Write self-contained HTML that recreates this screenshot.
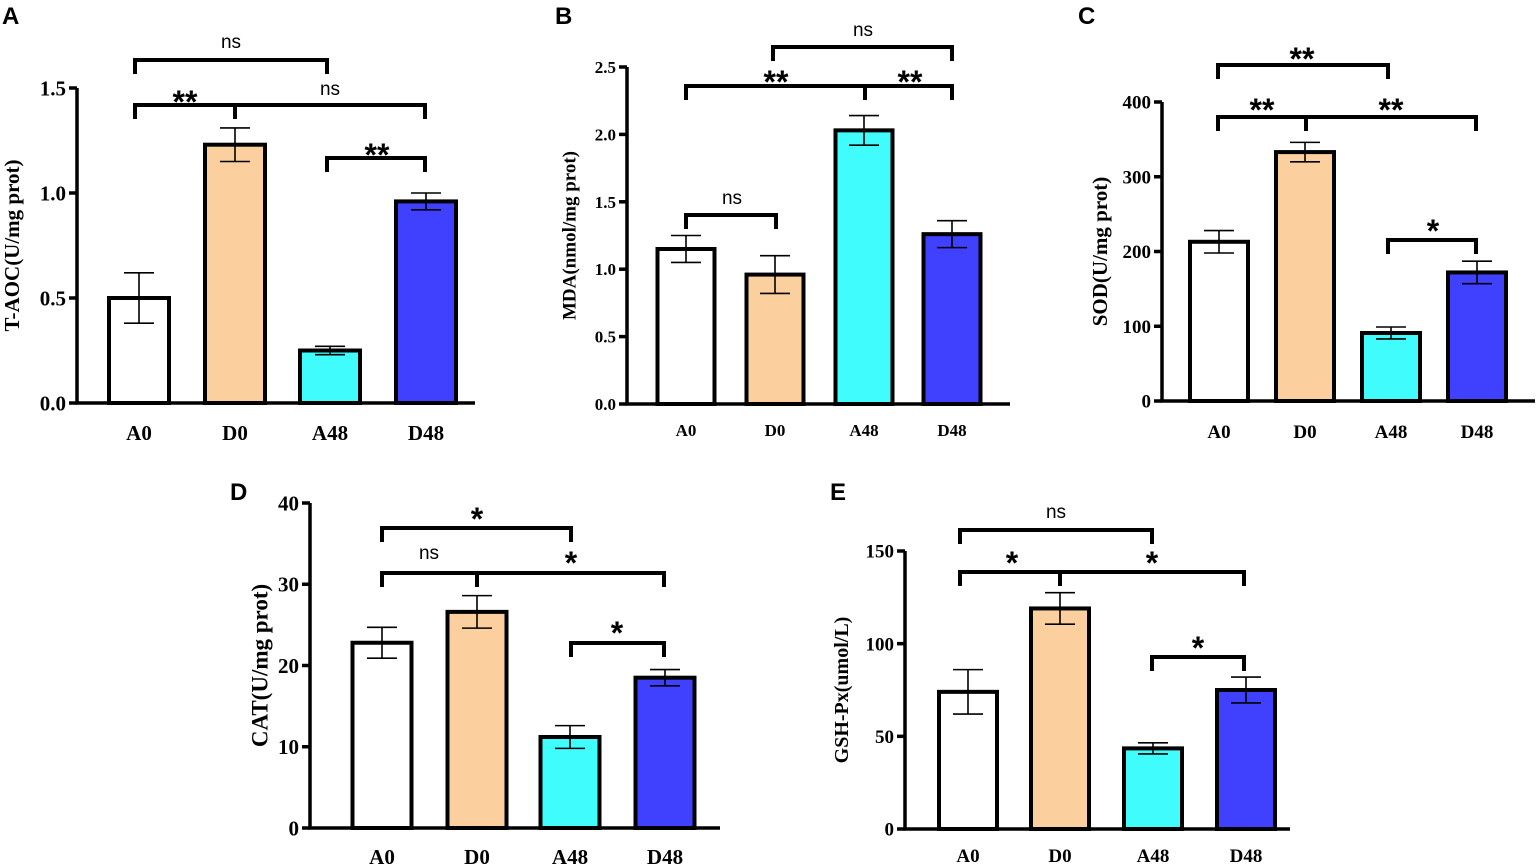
<!DOCTYPE html>
<html><head><meta charset="utf-8"><style>
html,body{margin:0;padding:0;background:#fff;}
svg{display:block;}
.tick{font-family:"Liberation Serif",serif;font-weight:bold;fill:#000;}
.sig{font-family:"Liberation Sans",sans-serif;fill:#000;}
.plab{font-family:"Liberation Sans",sans-serif;font-weight:bold;font-size:24px;fill:#000;}
</style></head><body>
<svg id="fig" width="1536" height="867" viewBox="0 0 1536 867" xmlns="http://www.w3.org/2000/svg"></svg>
<script>
const groups = ["A0","D0","A48","D48"];
const colors = ["#ffffff","#fbcf9e","#40fcfc","#4040ff"];
const taocValues = [0.50,1.23,0.25,0.96];
const taocErr = [0.12,0.08,0.02,0.04];
const taocTicks = [0,0.5,1.0,1.5];
const mdaValues = [1.15,0.96,2.03,1.26];
const mdaErr = [0.10,0.14,0.11,0.10];
const mdaTicks = [0,0.5,1.0,1.5,2.0,2.5];
const sodValues = [213,333,91,172];
const sodErr = [15,13,8,15];
const sodTicks = [0,100,200,300,400];
const catValues = [22.8,26.6,11.2,18.5];
const catErr = [1.9,2.0,1.4,1.0];
const catTicks = [0,10,20,30,40];
const gshValues = [74,119,43.5,75];
const gshErr = [12,8.5,3,7];
const gshTicks = [0,50,100,150];

const NS="http://www.w3.org/2000/svg";
const svg=document.getElementById('fig');
function mk(tag,attrs,parent){const e=document.createElementNS(NS,tag);for(const k in attrs)e.setAttribute(k,attrs[k]);(parent||svg).appendChild(e);return e;}

const panels=[
 {id:"a",letter:"A",lx:2,ly:24,vals:taocValues,err:taocErr,ticks:taocTicks,fmt:v=>v.toFixed(1),
  ax:77,y0:403,y1:88,vmax:1.5,xend:475,centers:[139,235,330,426],bw:60,title:"T-AOC(U/mg prot)",tx:12,fs:21,tfs:21,xly:440,
  br:[{x1:135,x2:327,y:60,mids:[],labels:[["ns",231,48]]},
      {x1:135,x2:425,y:105,mids:[235],labels:[["**",185,101],["ns",330,95]]},
      {x1:327,x2:425,y:158,mids:[],labels:[["**",377,154]]}]},
 {id:"b",letter:"B",lx:555,ly:24,vals:mdaValues,err:mdaErr,ticks:mdaTicks,fmt:v=>v.toFixed(1),
  ax:627,y0:404,y1:67,vmax:2.5,xend:1010,centers:[686,775,864,952],bw:57,title:"MDA(nmol/mg prot)",tx:570,fs:17,tfs:19,xly:436,
  br:[{x1:773,x2:952,y:47,mids:[],labels:[["ns",863,36]]},
      {x1:686,x2:952,y:86,mids:[865],labels:[["**",776,81],["**",910,81]]},
      {x1:686,x2:776,y:215,mids:[],labels:[["ns",732,204]]}]},
 {id:"c",letter:"C",lx:1078,ly:24,vals:sodValues,err:sodErr,ticks:sodTicks,fmt:v=>String(v),
  ax:1162,y0:401,y1:102,vmax:400,xend:1535,centers:[1219,1305,1391,1477],bw:58,title:"SOD(U/mg prot)",tx:1100,fs:19,tfs:21,xly:438,
  br:[{x1:1218,x2:1388,y:65,mids:[],labels:[["**",1302,58]]},
      {x1:1218,x2:1476,y:117,mids:[1306],labels:[["**",1262,109],["**",1391,109]]},
      {x1:1388,x2:1476,y:240,mids:[],labels:[["*",1433,230]]}]},
 {id:"d",letter:"D",lx:230,ly:500,vals:catValues,err:catErr,ticks:catTicks,fmt:v=>String(v),
  ax:310,y0:828,y1:503,vmax:40,xend:720,centers:[382,477,570,665],bw:59,title:"CAT(U/mg prot)",tx:260,fs:21,tfs:23,xly:864,
  br:[{x1:382,x2:571,y:528,mids:[],labels:[["*",477,518]]},
      {x1:382,x2:664,y:573,mids:[477],labels:[["ns",429,559],["*",571,562]]},
      {x1:571,x2:664,y:643,mids:[],labels:[["*",617,632]]}]},
 {id:"e",letter:"E",lx:830,ly:500,vals:gshValues,err:gshErr,ticks:gshTicks,fmt:v=>String(v),
  ax:905,y0:829,y1:551,vmax:150,xend:1290,centers:[968,1060,1153,1246],bw:58,title:"GSH-Px(umol/L)",tx:842,fs:19,tfs:20,xly:862,
  br:[{x1:960,x2:1152,y:530,mids:[],labels:[["ns",1056,518]]},
      {x1:960,x2:1244,y:572,mids:[1060],labels:[["*",1012,562],["*",1152,562]]},
      {x1:1152,x2:1244,y:657,mids:[],labels:[["*",1198,647]]}]}
];

panels.forEach(p=>{
  const g=mk('g',{});
  
  
  const ys=v=>p.y0-(v/p.vmax)*(p.y0-p.y1);
  const lt=mk('text',{x:p.lx,y:p.ly,class:'plab'},g);lt.textContent=p.letter;
  
  
  p.vals.forEach((v,i)=>{
    const c=p.centers[i],top=ys(v);
    const r=mk('rect',{x:c-p.bw/2,y:top,width:p.bw,height:p.y0-top,fill:colors[i],stroke:'#000','stroke-width':4},g);
    
    
    const e1=ys(v+p.err[i]),e2=ys(v-p.err[i]);
    const eb=mk('path',{d:`M${c},${e1}V${e2}M${c-15},${e1}H${c+15}M${c-15},${e2}H${c+15}`,stroke:'#000','stroke-width':1.6,fill:'none'},g);
    
    
  });
  const ax=mk('path',{d:`M${p.ax},${p.y1}V${p.y0}H${p.xend}`,stroke:'#000','stroke-width':3.5,fill:'none'},g);
  
  
  p.ticks.forEach(t=>{
    const y=ys(t);
    mk('line',{x1:p.ax-8,x2:p.ax,y1:y,y2:y,stroke:'#000','stroke-width':3.5},g);
    const tx=mk('text',{x:p.ax-11,y:y+p.fs*0.35,'text-anchor':'end',class:'tick','font-size':p.fs},g);
    tx.textContent=p.fmt(t);
    
    
  });
  groups.forEach((gname,i)=>{
    const tx=mk('text',{x:p.centers[i],y:p.xly,'text-anchor':'middle',class:'tick','font-size':p.fs},g);
    tx.textContent=gname;
    
    
  });
  const my=(p.y0+p.y1)/2;
  const tt=mk('text',{x:p.tx,y:my,transform:`rotate(-90 ${p.tx} ${my})`,'text-anchor':'middle',class:'tick','font-size':p.tfs,'dominant-baseline':'central'},g);
  tt.textContent=p.title;
  
  
  p.br.forEach(b=>{
    let d=`M${b.x1},${b.y+14}V${b.y}H${b.x2}V${b.y+14}`;
    b.mids.forEach(m=>{d+=`M${m},${b.y}V${b.y+14}`;});
    const bp=mk('path',{d:d,stroke:'#000','stroke-width':4,fill:'none'},g);
    
    
    b.labels.forEach(l=>{
      const star=l[0].indexOf('*')>=0;
      const tx=mk('text',{x:l[1],y:star?l[2]+12:l[2],'text-anchor':'middle',class:'sig','font-size':star?32:19,'font-weight':star?'bold':'normal'},g);
      tx.textContent=l[0];
      
      
    });
  });
});
</script>
</body></html>
